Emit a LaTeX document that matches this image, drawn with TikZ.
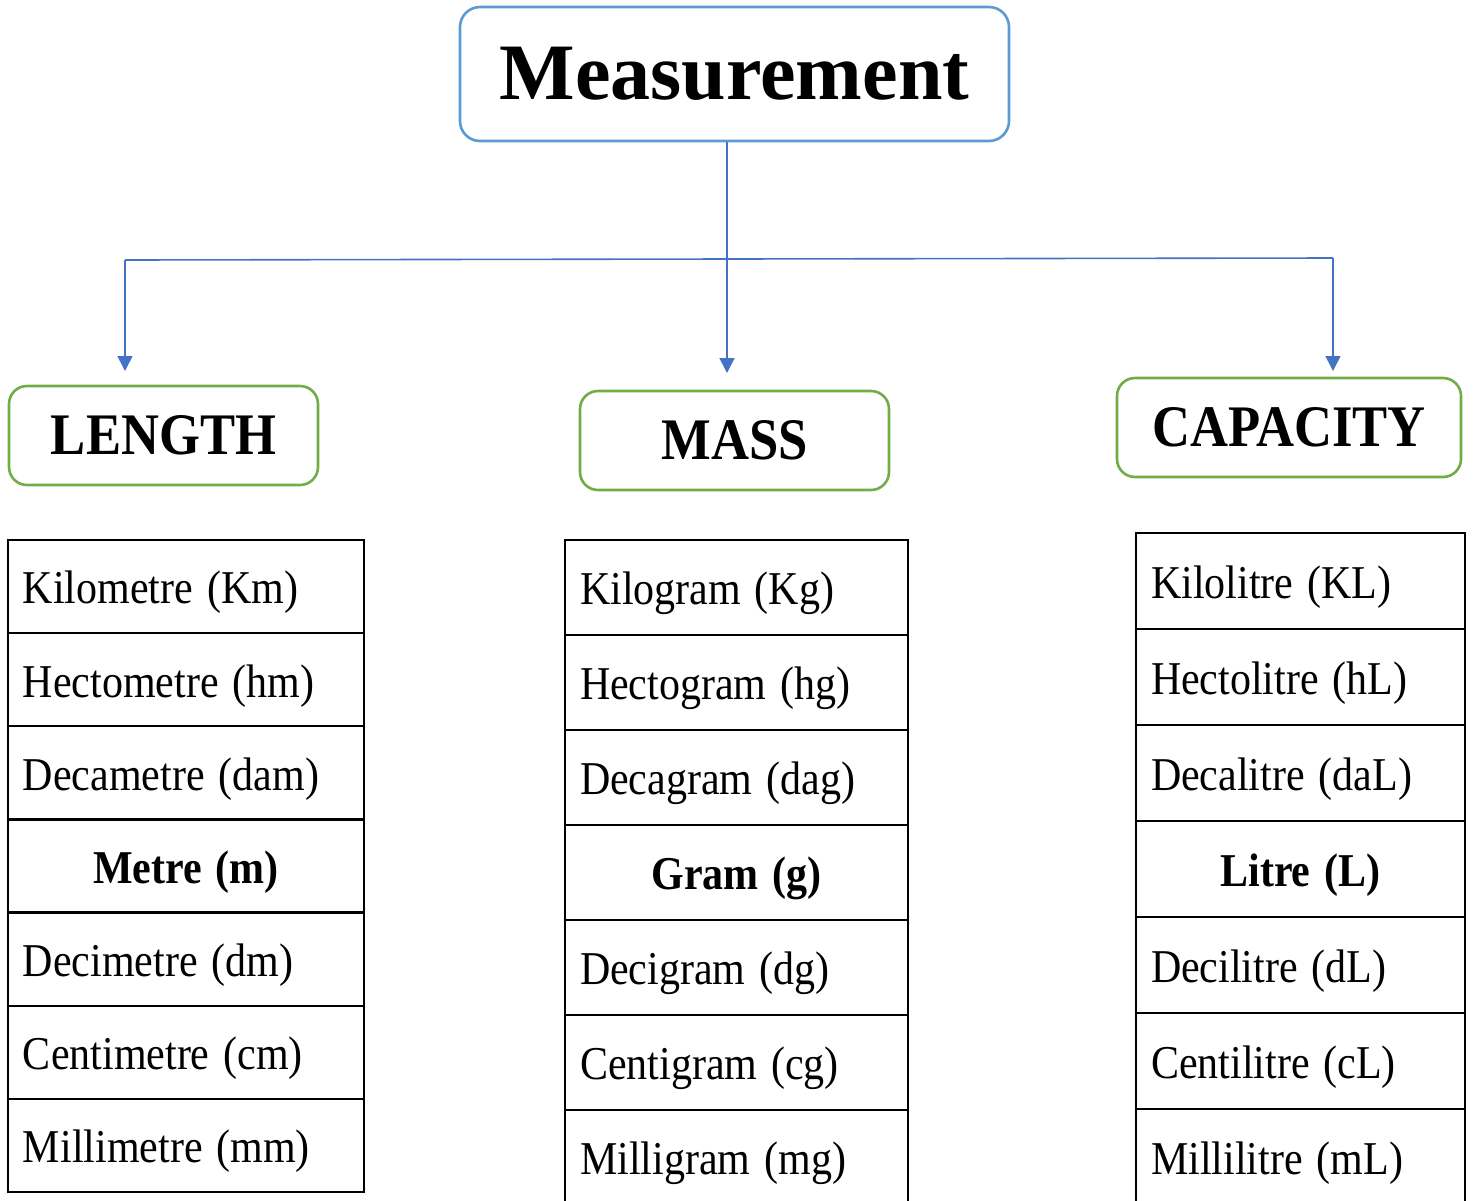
\documentclass[tikz,border=0pt]{standalone}
\usepackage{fontspec}
\setmainfont{Liberation Serif}
\usepackage{graphicx}
\usetikzlibrary{positioning,arrows.meta}

\definecolor{topblue}{HTML}{5B9BD5}
\definecolor{linkblue}{HTML}{4472C4}
\definecolor{headgreen}{HTML}{70AD47}

% text in the picture is a little taller than wide
\newcommand{\tallx}[1]{\scalebox{1}[1.12]{#1}}
\newcommand{\cellx}[1]{\raisebox{-3pt}[\height][\depth]{\scalebox{1}[1.12]{#1}}}

\tikzset{
  link/.style={draw=linkblue, line width=0.8pt},
  linkarrow/.style={link, -{Triangle[width=7.5pt,length=7.5pt]}},
  topbox/.style={draw=topblue, line width=1.3pt, rounded corners=10pt,
    minimum width=274.5pt, minimum height=67pt,
    font=\fontsize{40}{48}\selectfont\bfseries},
  headbox/.style={draw=headgreen, line width=1.3pt, rounded corners=9pt,
    minimum height=49.5pt, inner sep=0pt,
    font=\fontsize{26.3}{30}\selectfont\bfseries},
  unitcell/.style={draw, line width=1.2pt, outer sep=0pt, inner xsep=7.5pt,
    inner ysep=0pt, align=left, font=\fontsize{21}{25}\selectfont},
  basecell/.style={unitcell, align=center, font=\fontsize{21}{25}\selectfont\bfseries},
  lencol/.style={minimum height=46.57pt, text width=163pt},
  masscol/.style={minimum height=47.5pt, text width=156.5pt},
  capcol/.style={minimum height=48pt, text width=149.5pt},
}

\begin{document}
\begin{tikzpicture}[x=0.5pt,y=-0.5pt]
    \useasboundingbox (0,0) rectangle (1473,1200);
    \clip (0,0) rectangle (1473,1200);

    % Title box
    \node [topbox] (meas) at (734.5,74) {Measurement};

    % Heading boxes
    \node [headbox, minimum width=154.5pt] (len) at (163.5,435.5) {\tallx{LENGTH}};
    \node [headbox, minimum width=154.5pt] (mass) at (734.5,440.5) {\tallx{MASS}};
    \node [headbox, minimum width=172pt] (cap) at (1289,427.5) {\tallx{CAPACITY}};

    % Branch points and arrow ends
    \coordinate (hub) at (727,259);
    \coordinate (lenTop) at (125,260);
    \coordinate (capTop) at (1333,258);
    \coordinate (lenTip) at (125,371);
    \coordinate (massTip) at (727,373);
    \coordinate (capTip) at (1333,371);

    % Connectors
    \draw [link] (hub |- meas.south) -- (hub);
    \draw [link] (lenTop) -- (capTop);
    \draw [linkarrow] (lenTop) -- (lenTip);
    \draw [linkarrow] (hub) -- (massTip);
    \draw [linkarrow] (capTop) -- (capTip);

    % Length units
    \node [unitcell, lencol, anchor=north west] (km) at (8,540) {\cellx{Kilometre (Km)}};
    \node [unitcell, lencol, below=0pt of km] (hm) {\cellx{Hectometre (hm)}};
    \node [unitcell, lencol, below=0pt of hm] (dam) {\cellx{Decametre (dam)}};
    \node [basecell, lencol, below=0pt of dam] (m) {\cellx{Metre (m)}};
    \node [unitcell, lencol, below=0pt of m] (dm) {\cellx{Decimetre (dm)}};
    \node [unitcell, lencol, below=0pt of dm] (cm) {\cellx{Centimetre (cm)}};
    \node [unitcell, lencol, below=0pt of cm] (mm) {\cellx{Millimetre (mm)}};

    % Mass units
    \node [unitcell, masscol, anchor=north west] (kg) at (565,540) {\cellx{Kilogram (Kg)}};
    \node [unitcell, masscol, below=0pt of kg] (hg) {\cellx{Hectogram (hg)}};
    \node [unitcell, masscol, below=0pt of hg] (dag) {\cellx{Decagram (dag)}};
    \node [basecell, masscol, below=0pt of dag] (g) {\cellx{Gram (g)}};
    \node [unitcell, masscol, below=0pt of g] (dg) {\cellx{Decigram (dg)}};
    \node [unitcell, masscol, below=0pt of dg] (cg) {\cellx{Centigram (cg)}};
    \node [unitcell, masscol, below=0pt of cg] (mg) {\cellx{Milligram (mg)}};

    % Capacity units
    \node [unitcell, capcol, anchor=north west] (kl) at (1136,533) {\cellx{Kilolitre (KL)}};
    \node [unitcell, capcol, below=0pt of kl] (hl) {\cellx{Hectolitre (hL)}};
    \node [unitcell, capcol, below=0pt of hl] (dal) {\cellx{Decalitre (daL)}};
    \node [basecell, capcol, below=0pt of dal] (l) {\cellx{Litre (L)}};
    \node [unitcell, capcol, below=0pt of l] (dl) {\cellx{Decilitre (dL)}};
    \node [unitcell, capcol, below=0pt of dl] (cl) {\cellx{Centilitre (cL)}};
    \node [unitcell, capcol, below=0pt of cl] (ml) {\cellx{Millilitre (mL)}};
\end{tikzpicture}
\end{document}
